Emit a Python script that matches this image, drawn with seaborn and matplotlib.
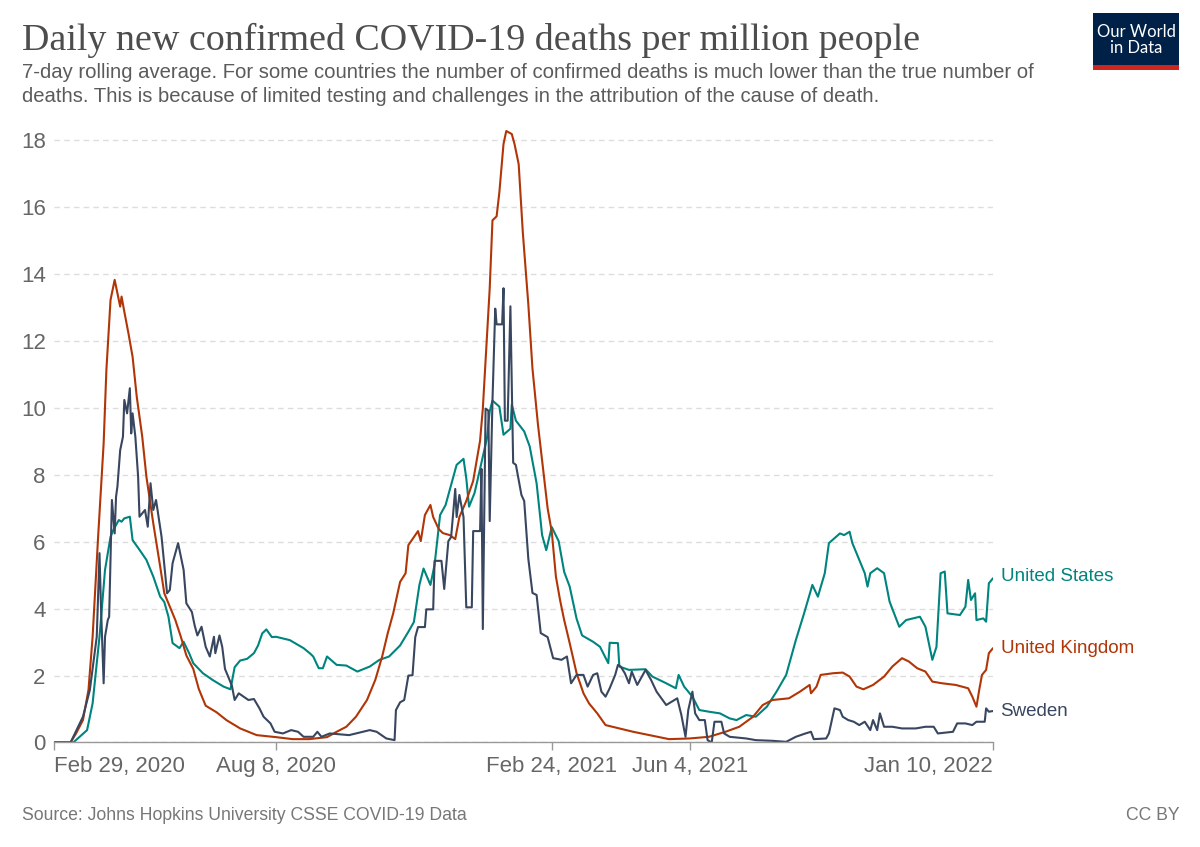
"""
Daily new confirmed COVID-19 deaths per million people (7-day rolling average)
United States, United Kingdom and Sweden, Feb 2020 - Jan 2022.
Values read off the Our World in Data chart.
"""

import pandas as pd
import numpy as np
import matplotlib.pyplot as plt
import matplotlib.patches as mpatches
import seaborn as sns

# ============================================================
# 1. Data (days counted from Feb 29, 2020)
# ============================================================
start_date = pd.Timestamp('2020-02-29')
end_date = pd.Timestamp('2022-01-10')

us_days = [0, 14, 24, 28, 33, 37, 41, 43, 47, 49, 51, 55, 57, 62, 67, 72, 77, 80, 83, 86,
           91, 94, 98, 101, 108, 115, 123, 128, 131, 135, 140, 145, 148, 151, 154, 158, 161,
           171, 181, 186, 188, 192, 195, 198, 205, 212, 220, 229, 236, 243, 251, 257, 261,
           265, 268, 273, 276, 280, 284, 288, 292, 297, 299, 301, 305, 309, 314, 316, 318,
           323, 326, 331, 332, 335, 341, 345, 350, 354, 357, 361, 366, 370, 374, 379, 383,
           391, 396, 402, 403, 409, 410, 417, 429, 434, 444, 451, 453, 457, 463, 468, 475,
           483, 490, 495, 502, 509, 517, 524, 531, 538, 544, 550, 554, 559, 562, 570, 573,
           577, 579, 584, 588, 590, 592, 597, 602, 606, 613, 618, 628, 632, 635, 637, 640,
           643, 646, 648, 657, 661, 663, 665, 668, 669, 674, 676, 678, 681]
us_vals = [0, 0, 0.37, 1.17, 3.16, 5.16, 6.15, 6.35, 6.65, 6.6, 6.7, 6.75, 6.05, 5.76, 5.46,
           4.96, 4.36, 4.2, 3.76, 2.97, 2.82, 3.01, 2.67, 2.37, 2.07, 1.87, 1.67, 1.59, 2.25,
           2.45, 2.5, 2.67, 2.9, 3.26, 3.38, 3.15, 3.16, 3.06, 2.82, 2.65, 2.57, 2.22, 2.22,
           2.57, 2.32, 2.3, 2.12, 2.27, 2.47, 2.57, 2.9, 3.31, 3.6, 4.71, 5.2, 4.71, 5.31,
           6.8, 7.1, 7.7, 8.3, 8.48, 7.9, 7.05, 7.46, 8.18, 9.1, 9.9, 10.22, 10.04, 9.2, 9.38,
           10.1, 9.62, 9.3, 8.85, 7.75, 6.2, 5.75, 6.44, 6.02, 5.1, 4.66, 3.7, 3.2, 3.01,
           2.86, 2.37, 2.98, 2.97, 2.27, 2.17, 2.19, 1.97, 1.77, 1.62, 2.02, 1.67, 1.37, 0.97,
           0.92, 0.87, 0.72, 0.67, 0.82, 0.77, 1.07, 1.52, 2.02, 3.06, 3.86, 4.71, 4.36, 5.06,
           5.96, 6.25, 6.2, 6.3, 5.96, 5.46, 5.06, 4.66, 5.06, 5.21, 5.06, 4.21, 3.46, 3.66,
           3.76, 3.46, 2.86, 2.47, 2.86, 5.06, 5.11, 3.86, 3.81, 4.06, 4.86, 4.26, 4.46, 3.66,
           3.71, 3.61, 4.76, 4.91]

uk_days = [0, 12, 16, 21, 25, 28, 32, 36, 38, 41, 44, 48, 49, 51, 54, 57, 60, 64, 67, 72,
           77, 80, 84, 88, 92, 96, 101, 105, 110, 118, 125, 135, 147, 161, 173, 185, 198,
           205, 212, 219, 227, 233, 238, 242, 246, 251, 255, 257, 260, 264, 266, 269, 273,
           275, 279, 282, 287, 291, 294, 299, 304, 309, 311, 314, 316, 318, 321, 323, 326,
           328, 332, 334, 337, 340, 344, 347, 351, 355, 358, 361, 364, 367, 370, 374, 379,
           384, 388, 394, 400, 410, 420, 432, 446, 461, 475, 487, 497, 507, 514, 521, 533,
           541, 548, 549, 553, 556, 565, 572, 577, 582, 587, 594, 602, 608, 615, 620, 626,
           632, 637, 644, 654, 663, 666, 669, 671, 673, 676, 678, 681]
uk_vals = [0, 0, 0.27, 0.67, 1.57, 3.16, 6.15, 8.94, 11.14, 13.23, 13.83, 13.03, 13.33,
           12.88, 12.23, 11.53, 10.34, 9.14, 7.95, 6.55, 5.26, 4.46, 4.06, 3.66, 3.16, 2.6,
           2.2, 1.6, 1.1, 0.9, 0.67, 0.42, 0.22, 0.16, 0.1, 0.1, 0.16, 0.32, 0.47, 0.77, 1.27,
           1.87, 2.57, 3.26, 3.86, 4.8, 5.06, 5.9, 6.08, 6.32, 6.02, 6.8, 7.1, 6.74, 6.38,
           6.26, 6.2, 6.08, 6.74, 7.22, 7.82, 9.02, 9.98, 12.14, 13.58, 15.61, 15.73, 16.45,
           17.89, 18.28, 18.19, 17.89, 17.29, 15.25, 13.1, 11.18, 9.5, 8.06, 7.0, 6.3, 4.96,
           4.26, 3.66, 2.97, 2.07, 1.47, 1.17, 0.87, 0.52, 0.42, 0.32, 0.22, 0.1, 0.12, 0.17,
           0.32, 0.47, 0.77, 1.12, 1.27, 1.32, 1.52, 1.72, 1.47, 1.67, 2.02, 2.07, 2.09, 1.97,
           1.67, 1.59, 1.72, 1.97, 2.27, 2.52, 2.42, 2.22, 2.12, 1.82, 1.77, 1.72, 1.62, 1.37,
           1.07, 1.57, 2.02, 2.17, 2.67, 2.82]

se_days = [0, 12, 21, 26, 31, 33, 34, 36, 37, 39, 40, 42, 44, 45, 46, 48, 50, 51, 53, 55,
           56, 57, 59, 61, 62, 66, 68, 70, 72, 74, 78, 82, 84, 86, 90, 94, 96, 100, 102, 104,
           107, 110, 113, 116, 117, 120, 122, 124, 126, 129, 131, 134, 141, 145, 149, 152,
           157, 160, 166, 172, 177, 181, 188, 191, 194, 200, 214, 229, 234, 241, 247, 248,
           251, 254, 257, 260, 262, 264, 269, 270, 275, 276, 281, 283, 286, 288, 291, 292,
           294, 297, 299, 303, 304, 309, 310, 311, 313, 315, 316, 318, 320, 321, 325, 326,
           327, 329, 331, 333, 335, 339, 341, 344, 347, 350, 353, 358, 362, 366, 368, 372,
           375, 379, 384, 387, 391, 394, 397, 400, 403, 407, 409, 411, 414, 417, 419, 423,
           429, 433, 437, 444, 448, 452, 455, 458, 460, 463, 465, 468, 472, 474, 477, 479,
           484, 486, 490, 502, 509, 521, 531, 538, 545, 549, 551, 560, 562, 566, 570, 572,
           576, 580, 584, 588, 592, 594, 597, 599, 602, 608, 615, 625, 632, 638, 641, 652,
           655, 661, 666, 669, 675, 676, 678, 681]
se_vals = [0, 0, 0.77, 1.57, 3.16, 5.66, 4.16, 1.77, 3.16, 3.66, 3.76, 7.25, 6.25, 7.35,
           7.65, 8.74, 9.14, 10.24, 9.84, 10.59, 9.24, 9.84, 9.14, 7.95, 6.75, 6.95, 6.45,
           7.75, 6.95, 7.25, 6.15, 4.46, 4.56, 5.36, 5.96, 5.16, 4.16, 3.9, 3.5, 3.2, 3.46,
           2.86, 2.57, 3.16, 2.67, 3.2, 2.86, 2.2, 2.0, 1.7, 1.27, 1.47, 1.27, 1.3, 1.02, 0.77,
           0.57, 0.32, 0.27, 0.37, 0.32, 0.17, 0.17, 0.32, 0.17, 0.27, 0.22, 0.37, 0.32, 0.12,
           0.07, 0.97, 1.2, 1.27, 2.0, 2.01, 3.15, 3.45, 3.45, 3.98, 3.98, 5.43, 5.43, 4.59,
           6.02, 6.14, 7.58, 6.74, 7.4, 6.74, 4.04, 4.04, 6.32, 6.32, 8.18, 3.39, 9.98, 9.92,
           6.62, 10.22, 12.97, 12.5, 12.5, 13.58, 9.62, 9.62, 13.04, 8.36, 8.3, 7.4, 7.22,
           5.49, 4.47, 4.41, 3.27, 3.15, 2.52, 2.49, 2.47, 2.57, 1.77, 2.02, 2.02, 1.67, 2.02,
           2.07, 1.52, 1.37, 1.62, 2.02, 2.32, 2.27, 2.07, 1.77, 2.12, 1.72, 2.17, 1.87, 1.52,
           1.12, 1.22, 1.32, 0.82, 0.17, 0.97, 1.52, 0.87, 0.67, 0.67, 0.07, 0.0, 0.62, 0.62,
           0.27, 0.17, 0.12, 0.07, 0.05, 0.02, 0.17, 0.27, 0.32, 0.1, 0.12, 0.27, 1.02, 0.97,
           0.77, 0.67, 0.62, 0.52, 0.62, 0.37, 0.67, 0.37, 0.87, 0.47, 0.47, 0.42, 0.42, 0.47,
           0.47, 0.27, 0.32, 0.57, 0.57, 0.52, 0.62, 0.62, 1.02, 0.92, 0.94]

countries = ['United States', 'United Kingdom', 'Sweden']
colors = {'United States': '#00847e', 'United Kingdom': '#b13507', 'Sweden': '#38465f'}
label_y = {'United States': 4.95, 'United Kingdom': 2.8, 'Sweden': 0.92}

tick_dates = ['2020-02-29', '2020-08-08', '2021-02-24', '2021-06-04', '2022-01-10']
tick_labels = ['Feb 29, 2020', 'Aug 8, 2020', 'Feb 24, 2021', 'Jun 4, 2021', 'Jan 10, 2022']
y_ticks = [0, 2, 4, 6, 8, 10, 12, 14, 16, 18]

# build one long table for seaborn
parts = []
for name, days, vals in [('United States', us_days, us_vals),
                         ('United Kingdom', uk_days, uk_vals),
                         ('Sweden', se_days, se_vals)]:
    parts.append(pd.DataFrame({
        'date': start_date + pd.to_timedelta(days, unit='D'),
        'deaths': vals,
        'country': name,
    }))
df = pd.concat(parts, ignore_index=True)

# ============================================================
# 2. Plot
# ============================================================
sns.set_theme(style='white')
plt.rcParams['font.family'] = ['Liberation Sans', 'DejaVu Sans']

fig = plt.figure(figsize=(12, 8.47), dpi=100)
ax = fig.add_axes([0.045, 0.1234, 0.7825, 0.7306])

sns.lineplot(data=df, x='date', y='deaths', hue='country', hue_order=countries,
             palette=colors, linewidth=1.5, legend=False, ax=ax, estimator=None,
             sort=False)

ax.set_xlim(start_date, end_date)
ax.set_ylim(0, 18.5)
ax.set_xlabel('')
ax.set_ylabel('')

# grid and spines
ax.set_yticks(y_ticks)
ax.yaxis.grid(True, linestyle=(0, (4, 3)), color='#dddddd', linewidth=1)
ax.xaxis.grid(False)
for side in ['top', 'right', 'left']:
    ax.spines[side].set_visible(False)
ax.spines['bottom'].set_color('#999999')
ax.spines['bottom'].set_linewidth(1)

ax.tick_params(axis='y', length=0, labelsize=16, labelcolor='#666666', pad=6)
ax.tick_params(axis='x', length=6, width=1, color='#999999', labelsize=16,
               labelcolor='#666666', pad=4, direction='out', bottom=True)
ax.set_xticks(pd.to_datetime(tick_dates))
ax.set_xticklabels(tick_labels)
labels = ax.get_xticklabels()
labels[0].set_ha('left')
labels[-1].set_ha('right')

# line end labels
for name in countries:
    ax.text(1.008, label_y[name], name, transform=ax.get_yaxis_transform(),
            color=colors[name], fontsize=13.5, va='center', ha='left')

# ============================================================
# 3. Title, subtitle, footer, logo
# ============================================================
fig.text(0.018, 1 - 40 / 847, 'Daily new confirmed COVID-19 deaths per million people',
         fontsize=27.4, color='#4d4d4d', family=['Liberation Serif', 'DejaVu Serif'],
         va='center', ha='left')
fig.text(0.018, 1 - 73 / 847,
         '7-day rolling average. For some countries the number of confirmed deaths is '
         'much lower than the true number of',
         fontsize=14.6, color='#5b5b5b', va='center', ha='left')
fig.text(0.018, 1 - 97 / 847,
         'deaths. This is because of limited testing and challenges in the attribution '
         'of the cause of death.',
         fontsize=14.6, color='#5b5b5b', va='center', ha='left')

fig.text(0.018, 1 - 815 / 847, 'Source: Johns Hopkins University CSSE COVID-19 Data',
         fontsize=12.7, color='#777777', va='center', ha='left')
fig.text(0.983, 1 - 815 / 847, 'CC BY', fontsize=12.7, color='#777777', va='center',
         ha='right')

# OWID logo box
logo_x0, logo_x1 = 1093 / 1200, 1179 / 1200
fig.patches.append(mpatches.Rectangle((logo_x0, 1 - 65 / 847), logo_x1 - logo_x0,
                                      52 / 847, transform=fig.transFigure,
                                      facecolor='#002147', edgecolor='none'))
fig.patches.append(mpatches.Rectangle((logo_x0, 1 - 70 / 847), logo_x1 - logo_x0,
                                      5 / 847, transform=fig.transFigure,
                                      facecolor='#ce261e', edgecolor='none'))
fig.text((logo_x0 + logo_x1) / 2, 1 - 40 / 847, 'Our World\nin Data', color='white',
         fontsize=12, ha='center', va='center', linespacing=1.05,
         family=['Lato', 'DejaVu Sans'])

plt.savefig('out.png', dpi=100)
plt.close()
